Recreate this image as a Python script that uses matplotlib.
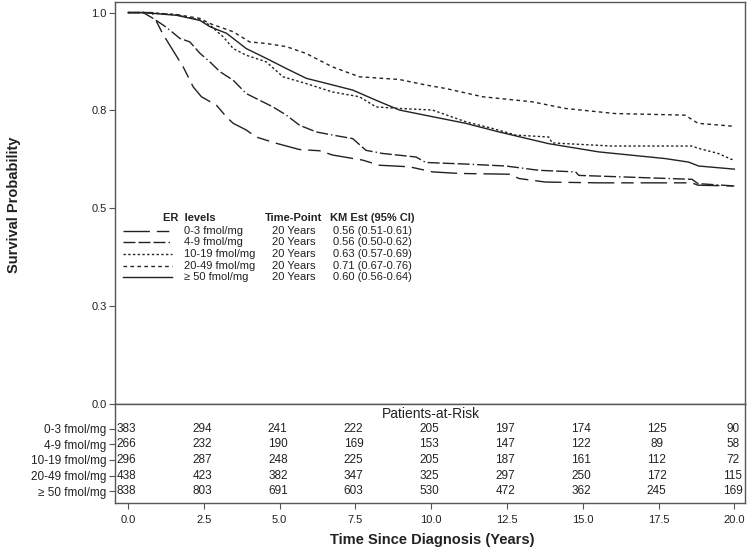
import matplotlib
matplotlib.use("Agg")
import matplotlib.pyplot as plt

# ── data ──────────────────────────────────────────────────────────────────────

groups = ["0-3 fmol/mg", "4-9 fmol/mg", "10-19 fmol/mg", "20-49 fmol/mg", "\u2265 50 fmol/mg"]

t_0_3 = [0, 0.79, 1.11, 1.27, 1.82, 2.15, 2.42, 2.92, 3.25, 3.47, 3.9, 4.23, 4.89, 5.66,
         6.32, 6.75, 7.74, 8.29, 9.28, 10.04, 10.92, 12.57, 12.9, 13.77, 15.53, 18.6, 18.8, 20.0]
s_0_3 = [1.0, 1.0, 0.951, 0.93, 0.861, 0.81, 0.785, 0.763, 0.733, 0.717, 0.70, 0.682, 0.666, 0.65,
         0.647, 0.636, 0.623, 0.61, 0.606, 0.593, 0.589, 0.587, 0.576, 0.567, 0.565, 0.565, 0.559, 0.557]

t_4_9 = [0, 0.5, 0.83, 1.16, 1.38, 1.71, 2.04, 2.37, 2.7, 3.03, 3.47, 3.9, 4.34, 4.78, 5.22, 5.66,
         6.21, 6.75, 7.41, 7.85, 8.4, 9.5, 9.82, 11.14, 12.46, 13.55, 14.76, 14.87, 18.6, 18.8, 20.0]
s_4_9 = [1.0, 1.0, 0.985, 0.968, 0.955, 0.934, 0.925, 0.896, 0.874, 0.849, 0.827, 0.793, 0.776, 0.759,
         0.738, 0.712, 0.695, 0.687, 0.678, 0.648, 0.64, 0.631, 0.617, 0.613, 0.608, 0.597, 0.593,
         0.584, 0.574, 0.563, 0.557]

t_10_19 = [0, 0.6, 1.6, 2.37, 2.7, 3.14, 3.47, 3.9, 4.56, 5.11, 5.86, 6.75, 7.63, 8.18, 8.95, 10.04,
           11.14, 12.02, 12.79, 13.88, 13.99, 15.96, 18.6, 18.82, 19.47, 19.9, 20.0]
s_10_19 = [1.0, 1.0, 0.994, 0.981, 0.968, 0.938, 0.908, 0.891, 0.874, 0.836, 0.819, 0.797, 0.785,
           0.759, 0.755, 0.751, 0.721, 0.704, 0.687, 0.682, 0.667, 0.659, 0.659, 0.653, 0.64, 0.625, 0.625]

t_20_49 = [0, 0.6, 1.6, 2.37, 2.7, 3.47, 4.01, 4.56, 5.22, 5.86, 6.75, 7.63, 8.95, 9.82, 10.48,
           11.69, 13.33, 14.43, 16.07, 18.37, 18.8, 19.9, 20.0]
s_20_49 = [1.0, 1.0, 0.995, 0.985, 0.972, 0.951, 0.925, 0.921, 0.913, 0.896, 0.861, 0.836, 0.829,
           0.815, 0.806, 0.785, 0.772, 0.755, 0.742, 0.738, 0.717, 0.71, 0.71]

t_50 = [0, 0.5, 1.6, 2.37, 2.7, 3.25, 3.9, 4.56, 5.22, 5.88, 6.75, 7.41, 8.18, 8.95, 10.04, 11.14,
        12.24, 13.88, 15.53, 17.72, 18.49, 18.82, 20.0]
s_50 = [1.0, 1.0, 0.993, 0.98, 0.964, 0.947, 0.908, 0.883, 0.857, 0.832, 0.815, 0.802, 0.776, 0.751,
        0.734, 0.717, 0.695, 0.665, 0.644, 0.627, 0.618, 0.608, 0.6]

km_est = ["0.56 (0.51-0.61)", "0.56 (0.50-0.62)", "0.63 (0.57-0.69)", "0.71 (0.67-0.76)", "0.60 (0.56-0.64)"]
time_point = "20 Years"

risk_times = [0.0, 2.5, 5.0, 7.5, 10.0, 12.5, 15.0, 17.5, 20.0]
risk_0_3 = [383, 294, 241, 222, 205, 197, 174, 125, 90]
risk_4_9 = [266, 232, 190, 169, 153, 147, 122, 89, 58]
risk_10_19 = [296, 287, 248, 225, 205, 187, 161, 112, 72]
risk_20_49 = [438, 423, 382, 347, 325, 297, 250, 172, 115]
risk_50 = [838, 803, 691, 603, 530, 472, 362, 245, 169]

y_ticks = [0.0, 0.25, 0.5, 0.75, 1.0]
y_ticklabels = ["0.0", "0.3", "0.5", "0.8", "1.0"]

# ── style ─────────────────────────────────────────────────────────────────────

plt.rcParams["font.family"] = ["Liberation Sans", "DejaVu Sans"]
plt.rcParams["lines.scale_dashes"] = False

FRAME = "#555555"
INK = "#222222"
W, H = 752, 550
AX_L, AX_R, AX_T, AX_B, RISK_B = 115, 745, 2, 404, 502.7
XLIM = (-0.43, 20.35)

curves = [(t_0_3, s_0_3), (t_4_9, s_4_9), (t_10_19, s_10_19), (t_20_49, s_20_49), (t_50, s_50)]
risks = [risk_0_3, risk_4_9, risk_10_19, risk_20_49, risk_50]
dashes = [(0, (19, 5, 9, 5)),
          (0, (8.6, 2.2, 8.6, 2.2, 8.6, 2.2, 1, 2.2)),
          (0, (1.7, 1.7)),
          (0, (2.6, 2.4)),
          "solid"]


def ax_x(px):
    """pixel x -> main-axes fraction"""
    return (px - AX_L) / (AX_R - AX_L)


def ax_y(py):
    """pixel y (from top) -> main-axes fraction"""
    return (AX_B - py) / (AX_B - AX_T)


# ── plot ──────────────────────────────────────────────────────────────────────

fig = plt.figure(figsize=(W / 100, H / 100), dpi=100)
ax = fig.add_axes([AX_L / W, 1 - AX_B / H, (AX_R - AX_L) / W, (AX_B - AX_T) / H])
axr = fig.add_axes([AX_L / W, 1 - RISK_B / H, (AX_R - AX_L) / W, (RISK_B - AX_B) / H])

for (t, s), ls in zip(curves, dashes):
    ax.plot(t, s, color=INK, linewidth=1.0, linestyle=ls)

ax.set_xlim(*XLIM)
ax.set_ylim(0, 1.027)
ax.set_yticks(y_ticks)
ax.set_yticklabels(y_ticklabels, fontsize=8, color=INK)
ax.tick_params(axis="y", length=4, width=0.8, color=FRAME, pad=2)
ax.tick_params(axis="x", bottom=False, labelbottom=False)
for sp in ax.spines.values():
    sp.set_color(FRAME)
    sp.set_linewidth(1.0)

# legend table
tr = ax.transAxes
hdr_y = ax_y(218.3)
row_y = [ax_y(p) for p in (230.7, 242.3, 254.0, 265.7, 277.3)]
ax.text(ax_x(163), hdr_y, "ER  levels", transform=tr, fontsize=8, fontweight="bold", va="center", color=INK)
ax.text(ax_x(265), hdr_y, "Time-Point", transform=tr, fontsize=8, fontweight="bold", va="center", color=INK)
ax.text(ax_x(330), hdr_y, "KM Est (95% CI)", transform=tr, fontsize=8, fontweight="bold", va="center", color=INK)
for y, g, km, ls in zip(row_y, groups, km_est, dashes):
    ax.plot([ax_x(123), ax_x(172)], [y, y], transform=tr, color=INK, linewidth=1.0, linestyle=ls)
    ax.text(ax_x(184), y, g, transform=tr, fontsize=8, va="center", color=INK)
    ax.text(ax_x(272), y, time_point, transform=tr, fontsize=8, va="center", color=INK)
    ax.text(ax_x(333), y, km, transform=tr, fontsize=8, va="center", color=INK)

# patients at risk
row0, row_step = 428.5, 15.7
axr.set_xlim(*XLIM)
axr.set_ylim((RISK_B - row0) / row_step, (AX_B - row0) / row_step)
for i, counts in enumerate(risks):
    for t, n in zip(risk_times, counts):
        axr.text(t - 0.06, i, str(n), ha="center", va="center", fontsize=8.5, color=INK)
axr.text(10.0, (413.5 - row0) / row_step, "Patients-at-Risk", ha="center", va="center", fontsize=10, color=INK)
axr.set_yticks(range(len(groups)))
axr.set_yticklabels(groups, fontsize=8.5, color=INK)
axr.set_xticks(risk_times)
axr.set_xticklabels([f"{t:.1f}" for t in risk_times], fontsize=8, color=INK)
axr.tick_params(length=4, width=0.8, color=FRAME, pad=2)
axr.tick_params(axis="x", pad=5)
for sp in axr.spines.values():
    sp.set_color(FRAME)
    sp.set_linewidth(1.0)

fig.text(432 / W, 1 - 540 / H, "Time Since Diagnosis (Years)", ha="center", va="center",
         fontsize=10.5, fontweight="bold", color=INK)
fig.text(14 / W, 1 - 205 / H, "Survival Probability", ha="center", va="center", rotation=90,
         fontsize=10.5, fontweight="bold", color=INK)

fig.savefig("out.png", dpi=100)
